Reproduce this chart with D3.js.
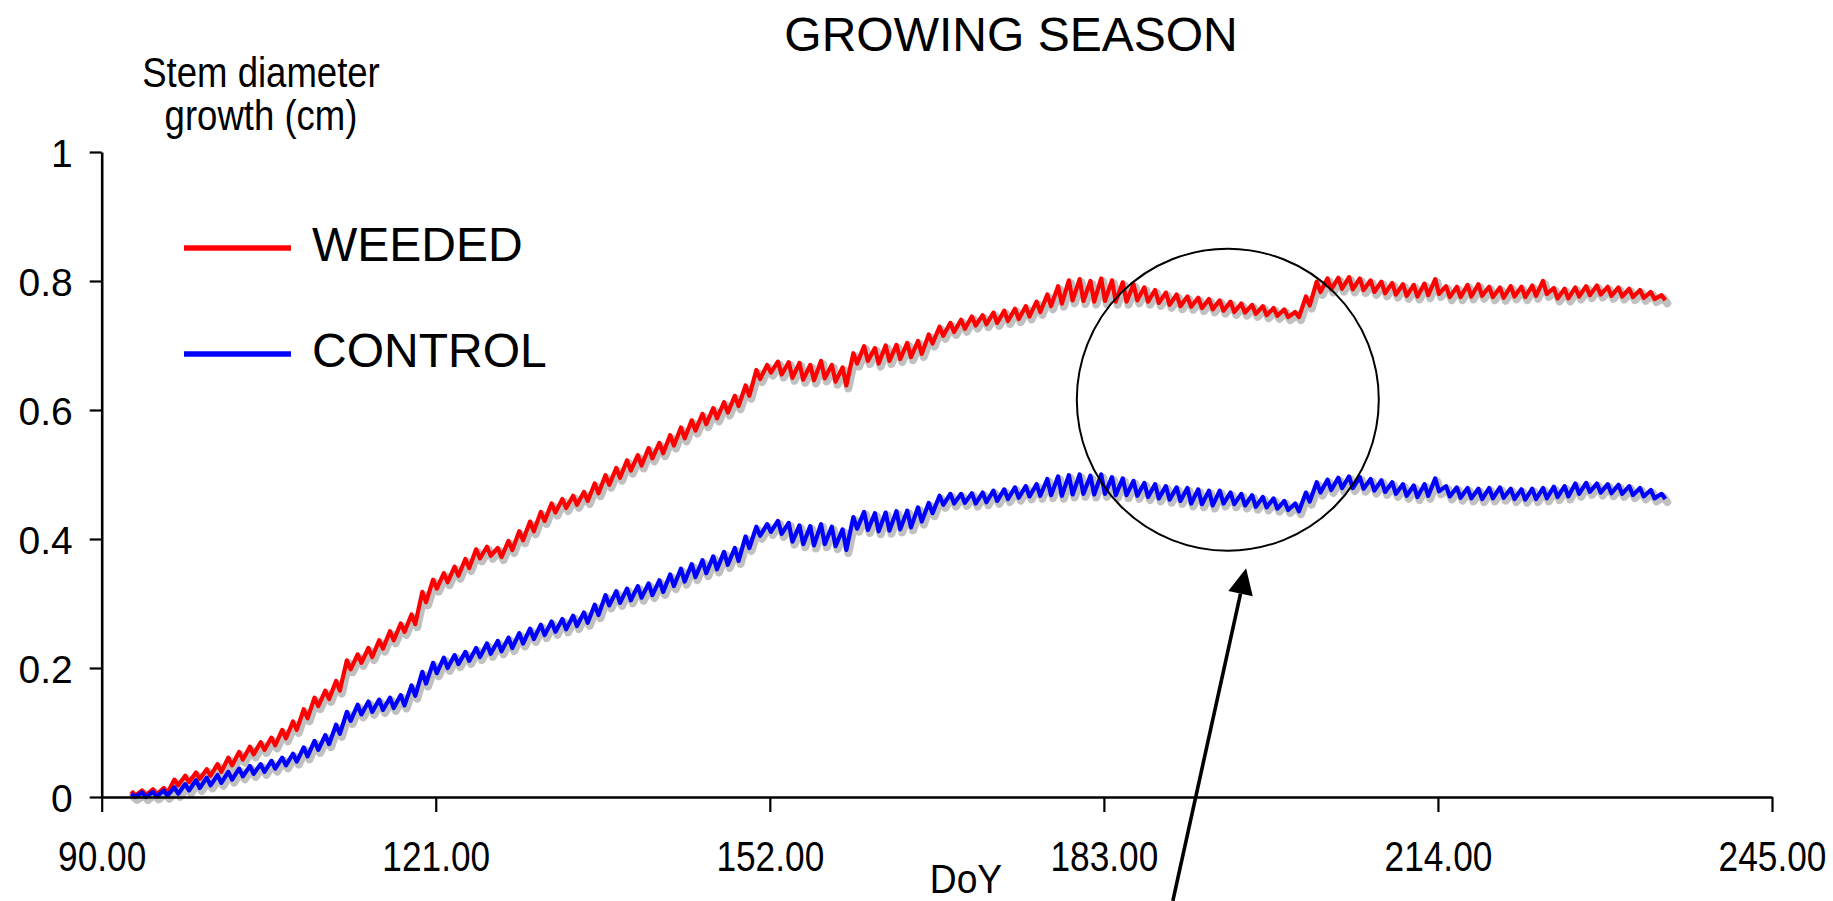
<!DOCTYPE html>
<html>
<head>
<meta charset="utf-8">
<title>Growing season</title>
<script src="https://cdn.jsdelivr.net/npm/d3@7"></script>
<style>
  html, body { margin: 0; padding: 0; background: #ffffff; }
  svg { display: block; }
  text { font-family: "Liberation Sans", Arial, sans-serif; fill: #000; }
</style>
</head>
<body>
<div id="chart"></div>
<script>
// Day of year (one entry per day)
const doy = [
  93, 94, 95, 96, 97, 98, 99,100,101,102,
 103,104,105,106,107,108,109,110,111,112,
 113,114,115,116,117,118,119,120,121,122,
 123,124,125,126,127,128,129,130,131,132,
 133,134,135,136,137,138,139,140,141,142,
 143,144,145,146,147,148,149,150,151,152,
 153,154,155,156,157,158,159,160,161,162,
 163,164,165,166,167,168,169,170,171,172,
 173,174,175,176,177,178,179,180,181,182,
 183,184,185,186,187,188,189,190,191,192,
 193,194,195,196,197,198,199,200,201,202,
 203,204,205,206,207,208,209,210,211,212,
 213,214,215,216,217,218,219,220,221,222,
 223,224,225,226,227,228,229,230,231,232,
 233,234,235
];

// WEEDED: night maximum and afternoon minimum of stem diameter growth (cm)
const weededHigh = [
 .009,.010,.012,.014,.027,.033,.038,.043,.051,.061,
 .070,.078,.085,.092,.104,.117,.136,.154,.165,.180,
 .212,.221,.231,.243,.257,.269,.283,.318,.337,.347,
 .357,.369,.384,.388,.386,.397,.412,.427,.442,.455,
 .462,.467,.473,.486,.499,.510,.522,.530,.541,.549,
 .561,.573,.584,.594,.603,.612,.622,.638,.662,.670,
 .675,.674,.673,.670,.676,.670,.666,.688,.699,.696,
 .700,.701,.704,.707,.717,.729,.735,.740,.745,.747,
 .751,.754,.757,.761,.768,.779,.792,.801,.803,.800,
 .804,.801,.798,.795,.790,.786,.782,.779,.776,.774,
 .772,.770,.768,.765,.763,.761,.758,.756,.752,.776,
 .799,.804,.805,.806,.804,.801,.799,.797,.795,.794,
 .796,.803,.792,.791,.794,.795,.791,.790,.792,.791,
 .793,.800,.789,.788,.790,.792,.793,.791,.790,.788,
 .786,.783,.778
];
const weededLow = [
 .002,.003,.004,.006,.018,.023,.028,.033,.039,.049,
 .058,.066,.073,.080,.091,.104,.122,.141,.152,.165,
 .198,.208,.217,.230,.243,.256,.268,.302,.323,.333,
 .343,.355,.370,.374,.372,.383,.398,.412,.428,.441,
 .448,.453,.459,.471,.484,.495,.506,.514,.525,.533,
 .545,.556,.568,.578,.587,.596,.606,.622,.648,.658,
 .655,.650,.647,.646,.649,.644,.638,.672,.676,.672,
 .676,.679,.682,.687,.703,.715,.721,.726,.731,.733,
 .735,.738,.741,.745,.752,.761,.765,.770,.769,.768,
 .769,.768,.768,.770,.768,.766,.763,.761,.760,.758,
 .756,.754,.752,.751,.749,.747,.746,.744,.744,.762,
 .783,.787,.788,.787,.786,.783,.781,.779,.777,.776,
 .778,.780,.775,.775,.776,.777,.775,.774,.776,.775,
 .777,.780,.773,.773,.776,.778,.779,.777,.776,.775,
 .774,.772,.770
];

// CONTROL: night maximum and afternoon minimum of stem diameter growth (cm)
const controlHigh = [
 .005,.007,.008,.010,.015,.020,.026,.030,.034,.039,
 .044,.048,.051,.056,.061,.067,.077,.087,.096,.112,
 .132,.143,.148,.151,.154,.158,.173,.194,.208,.216,
 .220,.225,.231,.238,.242,.247,.254,.261,.267,.272,
 .276,.281,.286,.298,.313,.319,.323,.327,.331,.336,
 .345,.354,.361,.367,.373,.380,.386,.404,.419,.423,
 .428,.425,.421,.420,.423,.419,.415,.434,.442,.440,
 .441,.443,.444,.449,.456,.467,.470,.470,.471,.472,
 .475,.477,.480,.482,.485,.493,.497,.499,.500,.498,
 .500,.496,.494,.490,.487,.485,.482,.480,.479,.477,
 .475,.475,.472,.470,.468,.465,.463,.459,.455,.472,
 .488,.492,.495,.497,.496,.493,.491,.488,.485,.483,
 .485,.494,.482,.480,.479,.478,.479,.480,.478,.477,
 .478,.479,.481,.482,.486,.487,.486,.485,.484,.482,
 .479,.476,.470
];
const controlLow = [
 .000,.000,.001,.002,.005,.010,.014,.018,.022,.027,
 .032,.036,.039,.044,.049,.055,.063,.073,.082,.098,
 .118,.128,.132,.135,.138,.142,.157,.176,.192,.200,
 .206,.211,.217,.222,.226,.231,.238,.245,.251,.256,
 .260,.265,.270,.282,.297,.301,.305,.309,.313,.318,
 .327,.334,.341,.347,.353,.360,.366,.386,.405,.411,
 .408,.396,.392,.390,.392,.389,.383,.416,.414,.412,
 .413,.415,.418,.427,.440,.453,.455,.456,.455,.457,
 .459,.462,.464,.466,.467,.468,.467,.469,.470,.469,
 .470,.468,.468,.467,.465,.463,.461,.459,.455,.454,
 .452,.455,.454,.452,.450,.449,.447,.445,.443,.458,
 .472,.476,.479,.479,.478,.475,.473,.470,.467,.465,
 .467,.474,.466,.464,.463,.462,.463,.464,.462,.461,
 .462,.463,.465,.466,.470,.473,.472,.471,.470,.468,
 .466,.463,.462
];

const xTicks = [90, 121, 152, 183, 214, 245];
const yTicks = [0, 0.2, 0.4, 0.6, 0.8, 1];

const seriesNames = ["WEEDED", "CONTROL"];
const seriesColors = ["#ff0000", "#0000ff"];

const W = 1833, H = 901;
const svg = d3.select("#chart").append("svg")
  .attr("width", W).attr("height", H)
  .attr("viewBox", `0 0 ${W} ${H}`);
svg.append("rect").attr("width", W).attr("height", H).attr("fill", "#fff");

const x = d3.scaleLinear().domain([90, 245]).range([101.7, 1772]);
const y = d3.scaleLinear().domain([0, 1]).range([797, 152]);

// daily cycle: swelling peak before dawn, shrinkage minimum in the afternoon
function cycle(high, low) {
  const pts = [];
  doy.forEach((d, i) => {
    pts.push([d - 0.25, high[i]]);
    pts.push([d + 0.1, low[i]]);
  });
  return pts;
}
const series = [
  { name: seriesNames[0], color: seriesColors[0], pts: cycle(weededHigh, weededLow) },
  { name: seriesNames[1], color: seriesColors[1], pts: cycle(controlHigh, controlLow) }
];

const line = d3.line().x(p => x(p[0])).y(p => y(p[1]));

const plot = svg.append("g");
// grey halo under each trace
plot.selectAll("path.halo").data(series).join("path")
  .attr("class", "halo")
  .attr("d", s => line(s.pts))
  .attr("transform", "translate(2,3)")
  .attr("fill", "none").attr("stroke", "#c0c0c0")
  .attr("stroke-width", 8).attr("stroke-linejoin", "round").attr("stroke-linecap", "round");
plot.selectAll("path.trace").data(series).join("path")
  .attr("class", "trace")
  .attr("d", s => line(s.pts))
  .attr("fill", "none").attr("stroke", s => s.color)
  .attr("stroke-width", 4.2).attr("stroke-linejoin", "round").attr("stroke-linecap", "butt");

// axes
const xAxis = svg.append("g").attr("transform", `translate(0,${y(0)})`)
  .call(d3.axisBottom(x).tickValues(xTicks).tickSize(15).tickSizeOuter(0).tickFormat(d3.format(".2f")));
const yAxis = svg.append("g").attr("transform", `translate(${x(90)},0)`)
  .call(d3.axisLeft(y).tickValues(yTicks).tickSize(12).tickSizeOuter(0).tickFormat(d => d === 0 || d === 1 ? String(d) : d3.format(".1f")(d)));

[xAxis, yAxis].forEach(g => {
  g.select(".domain").attr("stroke", "#000").attr("stroke-width", 2.6);
  g.selectAll(".tick line").attr("stroke", "#000").attr("stroke-width", 2.2);
});

xAxis.selectAll(".tick text")
  .attr("y", 0).attr("dy", 0)
  .attr("font-size", 42)
  .attr("text-anchor", "middle")
  .attr("transform", "translate(0,74) scale(0.84,1)")
  .style("font-family", '"Liberation Sans", Arial, sans-serif');

yAxis.selectAll(".tick text")
  .attr("x", -29).attr("dy", "0.38em")
  .attr("font-size", 39)
  .attr("text-anchor", "end")
  .style("font-family", '"Liberation Sans", Arial, sans-serif');

// titles
svg.append("text").attr("x", 1011).attr("y", 51)
  .attr("text-anchor", "middle").attr("font-size", 48).text("GROWING SEASON");

const yTitle = svg.append("g").attr("transform", "translate(261,0) scale(0.87,1)");
yTitle.append("text").attr("x", 0).attr("y", 87).attr("text-anchor", "middle")
  .attr("font-size", 42).text("Stem diameter");
yTitle.append("text").attr("x", 0).attr("y", 130).attr("text-anchor", "middle")
  .attr("font-size", 42).text("growth (cm)");

svg.append("text").attr("transform", "translate(966,893) scale(0.93,1)")
  .attr("text-anchor", "middle").attr("font-size", 40).text("DoY");

// legend
const legend = svg.append("g");
series.forEach((s, i) => {
  const ly = 248 + i * 106;
  legend.append("line").attr("x1", 184).attr("x2", 291).attr("y1", ly).attr("y2", ly)
    .attr("stroke", s.color).attr("stroke-width", 5.5);
  legend.append("text").attr("x", 312).attr("y", ly + 13)
    .attr("font-size", 48).text(s.name);
});

// annotation: circled period and pointer
const ring = { day: 194.5, val: 0.616, r: 151 };
svg.append("circle")
  .attr("cx", x(ring.day)).attr("cy", y(ring.val)).attr("r", ring.r)
  .attr("fill", "none").attr("stroke", "#000").attr("stroke-width", 2);

const tail = [x(189.4), y(-0.161)];
const tip = [x(196.2), y(0.3546)];
const ang = Math.atan2(tip[1] - tail[1], tip[0] - tail[0]);
const headLen = 26, headHalf = 12.5;
const base = [tip[0] - headLen * Math.cos(ang), tip[1] - headLen * Math.sin(ang)];
svg.append("line")
  .attr("x1", tail[0]).attr("y1", tail[1]).attr("x2", base[0]).attr("y2", base[1])
  .attr("stroke", "#000").attr("stroke-width", 3.6);
svg.append("path")
  .attr("d", d3.line()([
    tip,
    [base[0] + headHalf * Math.sin(ang), base[1] - headHalf * Math.cos(ang)],
    [base[0] - headHalf * Math.sin(ang), base[1] + headHalf * Math.cos(ang)]
  ]) + "Z")
  .attr("fill", "#000");
</script>
</body>
</html>
